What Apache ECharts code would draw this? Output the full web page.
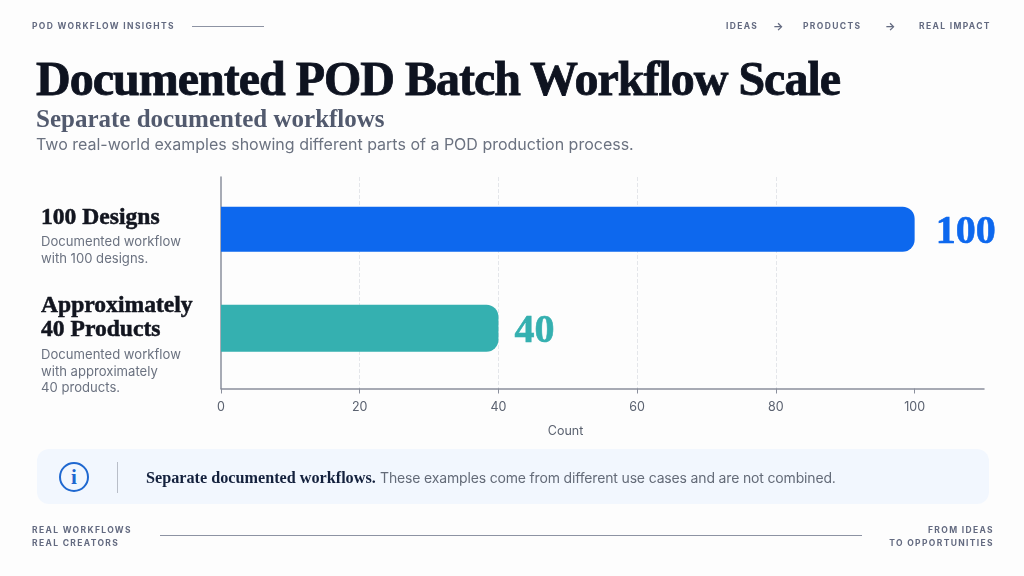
<!DOCTYPE html>
<html>
<head>
<meta charset="utf-8">
<title>Documented POD Batch Workflow Scale</title>
<script src="https://cdn.jsdelivr.net/npm/echarts@6/dist/echarts.min.js"></script>
<style>
html, body { margin: 0; padding: 0; background: #fdfdfd; }
#page { position: relative; width: 1024px; height: 576px; overflow: hidden; background: #fdfdfd; font-family: Inter, sans-serif; }
#chart { position: absolute; left: 0; top: 0; width: 1024px; height: 576px; }
.t { position: absolute; white-space: nowrap; line-height: 1; }
.serif { font-family: "Liberation Serif", serif; font-weight: 700; }
.small { font-size: 8.5px; font-weight: 700; letter-spacing: 1.35px; color: #636a80; }
.rule { position: absolute; height: 1px; background: #8d93a3; }
#note { position: absolute; left: 37px; top: 449px; width: 952px; height: 55px; border-radius: 12px; background: #f2f7fe; }
#sep { position: absolute; left: 117px; top: 462px; width: 1px; height: 31px; background: #b9bec8; }
#ico { position: absolute; left: 59px; top: 462px; width: 26px; height: 26px; border: 2px solid #1f68d0; border-radius: 50%; color: #1f68d0; text-align: center; font-size: 21px; line-height: 27px; }
</style>
</head>
<body>
<div id="page">
	<div id="note"></div>
	<div id="sep"></div>
	<div id="ico" class="serif">i</div>
	<div id="chart"></div>

	<div class="t small" style="left:32px;top:22px">POD WORKFLOW INSIGHTS</div>
	<div class="rule" style="left:192px;top:26px;width:72px"></div>
	<div class="t small" style="left:726px;top:22px">IDEAS</div>
	<div class="t small" style="left:773px;top:21px;font-size:11px;letter-spacing:0">→</div>
	<div class="t small" style="left:803px;top:22px">PRODUCTS</div>
	<div class="t small" style="left:885px;top:21px;font-size:11px;letter-spacing:0">→</div>
	<div class="t small" style="left:919px;top:22px">REAL IMPACT</div>

	<div class="t serif" style="left:36px;top:55px;font-size:48px;letter-spacing:-1px;color:#0e1320;-webkit-text-stroke:0.8px #0e1320">Documented POD Batch Workflow Scale</div>
	<div class="t serif" style="left:36px;top:106px;font-size:25px;color:#525a6e">Separate documented workflows</div>
	<div class="t" style="left:36px;top:136px;font-size:16px;color:#6b7280">Two real-world examples showing different parts of a POD production process.</div>

	<div class="t serif" style="left:146px;top:470px;font-size:16.2px;color:#14213d">Separate documented workflows.</div>
	<div class="t" style="left:380px;top:471px;font-size:14px;letter-spacing:-0.16px;color:#646b78">These examples come from different use cases and are not combined.</div>

	<div class="t small" style="left:32px;top:526px">REAL WORKFLOWS</div>
	<div class="t small" style="left:32px;top:539px">REAL CREATORS</div>
	<div class="rule" style="left:160px;top:535px;width:702px"></div>
	<div class="t small" style="right:30px;top:526px">FROM IDEAS</div>
	<div class="t small" style="right:30px;top:539px">TO OPPORTUNITIES</div>
</div>
<script>
var categories = ['100 Designs', 'Approximately 40 Products'];
var values = [100, 40];
var xTicks = [0, 20, 40, 60, 80, 100];
var axisName = 'Count';
var headLines = [['100 Designs'], ['Approximately', '40 Products']];
var descLines = [
	['Documented workflow', 'with 100 designs.'],
	['Documented workflow', 'with approximately', '40 products.']
];
var barColors = ['#0d68ee', '#35b0b0'];

var SERIF = '"Liberation Serif", serif';
var SANS = 'Inter, sans-serif';

// left hand labels, one block per category
function labelBlocks() {
	var out = [];
	var heads = [[218], [306, 330]];
	var descs = [[242, 259], [355, 372, 388]];
	for (var i = 0; i < categories.length; i++) {
		for (var a = 0; a < headLines[i].length; a++) {
			out.push({
				type : 'text',
				x : 41,
				y : heads[i][a],
				style : {
					text : headLines[i][a],
					font : '700 23.6px ' + SERIF,
					fill : '#12151f',
					stroke : '#12151f',
					lineWidth : 0.5,
					textVerticalAlign : 'middle'
				}
			});
		}
		for (var b = 0; b < descLines[i].length; b++) {
			out.push({
				type : 'text',
				x : 41,
				y : descs[i][b],
				style : {
					text : descLines[i][b],
					font : '400 13.1px ' + SANS,
					fill : '#6b7280',
					textVerticalAlign : 'middle'
				}
			});
		}
	}
	return out;
}

function barSeries(idx) {
	var d = [];
	for (var i = 0; i < values.length; i++) {
		d.push(i == idx ? values[i] : null);
	}
	return {
		name : categories[idx],
		type : 'bar',
		xAxisIndex : 1,
		yAxisIndex : 1,
		barWidth : idx == 0 ? 45 : 47,
		barGap : '-100%',
		data : d,
		itemStyle : {
			color : barColors[idx],
			borderRadius : [0, 12, 12, 0]
		},
		label : {
			show : true,
			position : 'right',
			distance : idx == 0 ? 21 : 16,
			offset : [0, 3],
			formatter : '{c}',
			fontFamily : SERIF,
			fontWeight : 700,
			fontSize : 40,
			color : barColors[idx],
			textBorderColor : barColors[idx],
			textBorderWidth : 0.6
		},
		silent : true
	};
}

var myChart = echarts.init(document.getElementById('chart'), null, { renderer : 'canvas' });
var option = {
	animation : false,
	backgroundColor : 'transparent',
	grid : [
		{ left : 221, right : 40, top : 177, height : 211.5 },
		{ left : 221, right : 40, top : 181.25, height : 196 }
	],
	xAxis : [ {
		type : 'value',
		gridIndex : 0,
		min : 0,
		max : 110,
		interval : 20,
		name : axisName,
		nameLocation : 'middle',
		nameGap : 36,
		nameTextStyle : {
			fontFamily : SANS,
			fontSize : 12.5,
			color : '#5b6270',
			padding : [0, 74, 0, 0]
		},
		axisLine : { show : true, lineStyle : { color : '#8a8f9c', width : 1.5 } },
		axisTick : { show : true, length : 5, customValues : xTicks, lineStyle : { color : '#8a8f9c' } },
		axisLabel : { customValues : xTicks, margin : 12, fontFamily : SANS, fontSize : 12.5, color : '#5b6270' },
		splitLine : {
			show : true,
			showMinLine : false,
			showMaxLine : false,
			lineStyle : { color : '#e4e6ea', type : 'dashed', width : 1 }
		}
	}, {
		type : 'value',
		gridIndex : 1,
		min : 0,
		max : 110,
		show : false
	} ],
	yAxis : [ {
		type : 'value',
		gridIndex : 0,
		min : 0,
		max : 1,
		axisLine : { show : true, lineStyle : { color : '#8a8f9c', width : 1.5 } },
		axisTick : { show : false },
		axisLabel : { show : false },
		splitLine : { show : false }
	}, {
		type : 'category',
		gridIndex : 1,
		inverse : true,
		data : categories,
		show : false
	} ],
	series : [ barSeries(0), barSeries(1) ],
	graphic : labelBlocks()
};
myChart.setOption(option);
</script>
</body>
</html>
